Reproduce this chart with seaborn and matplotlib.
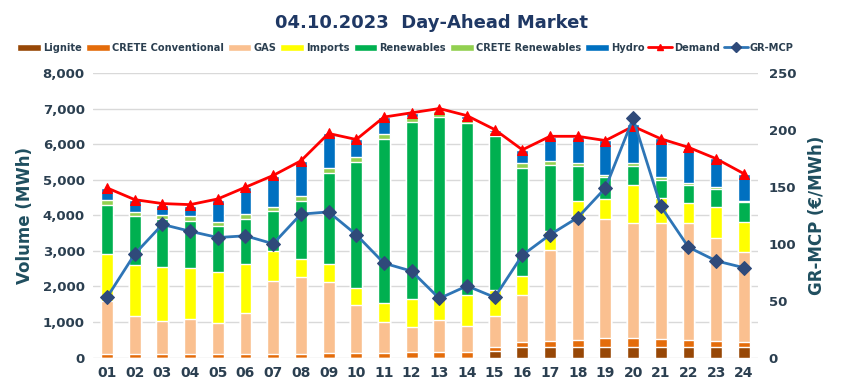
import numpy as np
import pandas as pd
import matplotlib
matplotlib.use('Agg')
import matplotlib.pyplot as plt
import seaborn as sns
from matplotlib.patches import Patch
from matplotlib.lines import Line2D

# hourly values (MWh, MCP in EUR/MWh)
hours = ['%02d' % h for h in range(1, 25)]
lignite = [0, 0, 0, 0, 0, 0, 0, 0, 0, 0, 0, 0, 0, 0, 190, 300, 300, 300, 300, 300, 300, 300, 300, 300]
crete_conv = [110, 110, 110, 110, 110, 110, 110, 110, 120, 120, 130, 160, 160, 170, 120, 140, 170, 200, 245, 245, 215, 200, 170, 140]
gas = [1470, 1070, 930, 990, 860, 1140, 2050, 2160, 2020, 1360, 880, 710, 900, 730, 860, 1320, 2560, 3390, 3350, 3250, 3280, 3280, 2890, 2540]
imports = [1330, 1430, 1500, 1420, 1430, 1390, 840, 510, 490, 470, 540, 780, 610, 860, 730, 530, 520, 500, 570, 1060, 690, 560, 870, 840]
renewables = [1390, 1380, 1360, 1330, 1310, 1270, 1110, 1630, 2550, 3540, 4600, 4960, 5090, 4830, 4320, 3050, 1860, 990, 610, 540, 520, 520, 520, 540]
crete_ren = [140, 110, 110, 120, 110, 130, 130, 140, 160, 140, 140, 150, 160, 110, 110, 140, 110, 90, 70, 80, 80, 50, 50, 50]
hydro = [330, 320, 280, 280, 620, 760, 870, 980, 960, 500, 470, 110, 50, 95, 60, 360, 690, 720, 960, 1080, 1080, 990, 800, 760]
demand = [4770, 4440, 4330, 4300, 4460, 4790, 5120, 5530, 6300, 6130, 6760, 6880, 7000, 6800, 6410, 5840, 6220, 6220, 6100, 6500, 6150, 5910, 5590, 5170]
mcp = [53, 91, 117, 111, 105.5, 107, 100, 126, 128, 108, 83, 76, 52, 63, 53, 90, 108, 123, 149, 210, 133, 97, 85, 79]

layers = ['Lignite', 'CRETE Conventional', 'GAS', 'Imports', 'Renewables', 'CRETE Renewables', 'Hydro']
colors = ['#974706', '#E46C0A', '#FAC090', '#FFFF00', '#00B050', '#92D050', '#0070C0']

df = pd.DataFrame({'Hour': hours, 'Lignite': lignite, 'CRETE Conventional': crete_conv,
                   'GAS': gas, 'Imports': imports, 'Renewables': renewables,
                   'CRETE Renewables': crete_ren, 'Hydro': hydro})
cum = df[layers].cumsum(axis=1)

sns.set_style('white')
plt.rcParams['font.family'] = ['DejaVu Sans']
tick_col = '#2B3F50'
lab_col = '#1F4E5F'

fig = plt.figure(figsize=(8.63, 3.89), dpi=100)
ax = fig.add_axes([0.108, 0.0805, 0.770, 0.732])

# stacked bars: draw cumulative totals from the top layer down
for name, c in reversed(list(zip(layers, colors))):
    sns.barplot(x=df['Hour'], y=cum[name], color=c, saturation=1, width=0.43,
                errorbar=None, ax=ax, zorder=2)

x = np.arange(len(hours))
sns.lineplot(x=x, y=demand, color='#FF0000', lw=2, marker='^', markersize=7,
             markeredgecolor='#FF0000', ax=ax, zorder=4)

ax.set_ylim(0, 8000)
ax.set_xlim(-0.5, 23.5)
ax.set_yticks(range(0, 8001, 1000))
ax.set_yticklabels(['{:,}'.format(v) for v in range(0, 8001, 1000)])
ax.yaxis.grid(True, color='#D9D9D9', lw=1, zorder=0)
ax.set_axisbelow(True)
for s in ax.spines.values():
    s.set_visible(False)
ax.tick_params(length=0, labelsize=9.5, labelcolor=tick_col, pad=6)
ax.tick_params(axis='x', labelsize=10)
for t in ax.get_xticklabels() + ax.get_yticklabels():
    t.set_fontweight('bold')
ax.set_xlabel('')
ax.set_ylabel('Volume (MWh)', fontsize=12, fontweight='bold', color=lab_col, labelpad=6)

ax2 = ax.twinx()
sns.lineplot(x=x, y=mcp, color='#2E75B6', lw=2, marker='D', markersize=7,
             markerfacecolor='#2F4A7A', markeredgecolor='#2F4A7A', ax=ax2, zorder=5)
ax2.set_ylim(0, 250)
ax2.set_yticks(range(0, 251, 50))
for s in ax2.spines.values():
    s.set_visible(False)
ax2.tick_params(length=0, labelsize=9.5, labelcolor=tick_col, pad=8)
for t in ax2.get_yticklabels():
    t.set_fontweight('bold')
ax2.set_ylabel('GR-MCP (€/MWh)', fontsize=12, fontweight='bold', color=lab_col, labelpad=8)
ax2.grid(False)

handles = [Patch(facecolor=c, label=n) for n, c in zip(layers, colors)]
handles.append(Line2D([], [], color='#FF0000', lw=2, marker='^', markersize=5, label='Demand'))
handles.append(Line2D([], [], color='#2E75B6', lw=2, marker='D', markersize=5,
                      markerfacecolor='#2F4A7A', markeredgecolor='#2F4A7A', label='GR-MCP'))
leg = fig.legend(handles=handles, loc='center', bbox_to_anchor=(0.470, 0.877), ncol=9,
                 frameon=False, fontsize=7.15, handlelength=2.4, handleheight=0.7,
                 columnspacing=0.4, handletextpad=0.2, borderpad=0)
for t in leg.get_texts():
    t.set_color(tick_col)
    t.set_fontweight('bold')

fig.suptitle('04.10.2023  Day-Ahead Market', x=0.5, y=0.965, fontsize=13,
             fontweight='bold', color='#1F3864')

fig.savefig('out.png', dpi=100)
